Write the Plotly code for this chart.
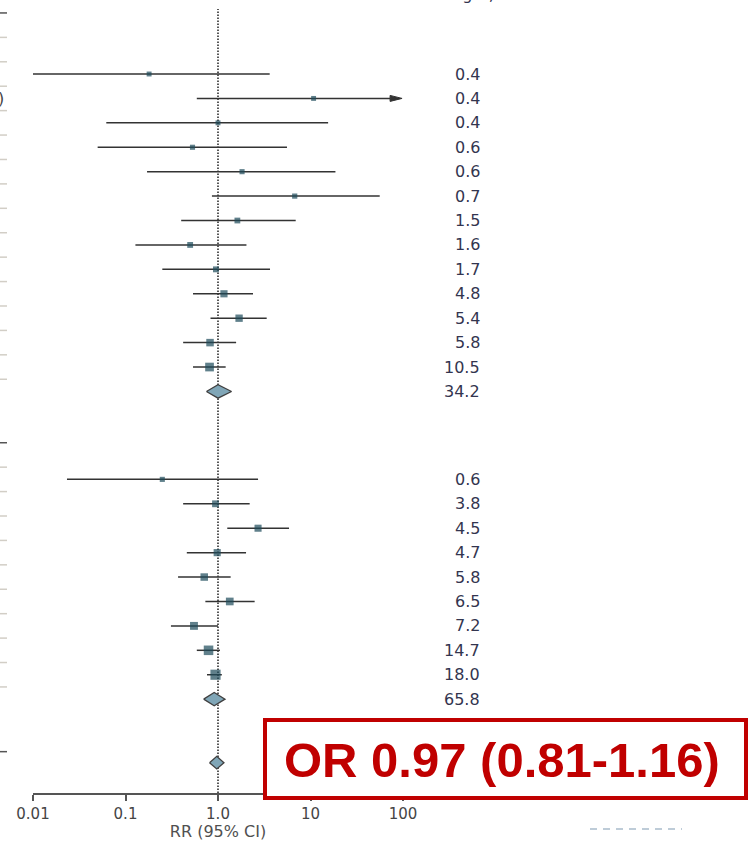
import math
import plotly.graph_objects as go

# ---------------- data ----------------
g1_weight = [0.4, 0.4, 0.4, 0.6, 0.6, 0.7, 1.5, 1.6, 1.7, 4.8, 5.4, 5.8, 10.5]
g1_est = [0.18, 10.8, 1.00, 0.53, 1.82, 6.75, 1.62, 0.50, 0.95, 1.16, 1.69, 0.82, 0.81]
g1_lo = [0.010, 0.59, 0.062, 0.050, 0.171, 0.86, 0.40, 0.128, 0.25, 0.537, 0.83, 0.42, 0.537]
g1_hi = [3.62, 150.0, 15.5, 5.57, 18.6, 56.0, 6.92, 2.03, 3.65, 2.39, 3.36, 1.57, 1.21]
g1_pooled = [1.00, 0.75, 1.40]
g1_pooled_weight = 34.2

g2_weight = [0.6, 3.8, 4.5, 4.7, 5.8, 6.5, 7.2, 14.7, 18.0]
g2_est = [0.25, 0.94, 2.71, 0.98, 0.71, 1.34, 0.55, 0.79, 0.94]
g2_lo = [0.0233, 0.42, 1.26, 0.46, 0.37, 0.73, 0.31, 0.59, 0.76]
g2_hi = [2.71, 2.20, 5.86, 2.01, 1.37, 2.49, 1.00, 1.05, 1.10]
g2_pooled = [0.91, 0.70, 1.19]
g2_pooled_weight = 65.8

overall = [0.97, 0.81, 1.16]

x_tick_vals = [0.01, 0.1, 1, 10, 100]
x_tick_text = ["0.01", "0.1", "1.0", "10", "100"]
x_title = "RR (95% CI)"
box_text = "OR 0.97 (0.81-1.16)"
header_text = "Weight, %"

# ---------------- layout constants ----------------
W, H = 749, 841
ML, MR, MB = 33, 346, 48
PW = W - ML - MR
PH = H - MB
ROW_PX = 24.42
ROW0_PX = 74
Y_TOP = (0 - ROW0_PX) / ROW_PX
Y_BOT = (PH - ROW0_PX) / ROW_PX
G2 = 16.6
OVERALL_ROW = 28.2
XMAX = 100

def pxx(px):
    return (px - ML) / PW

def pxy(py):
    return 1 - py / PH

g1_rows = [i for i in range(len(g1_est))]
g1_pooled_row = len(g1_est)
g2_rows = [G2 + i for i in range(len(g2_est))]
g2_pooled_row = G2 + len(g2_est)

LINE_C = "#333333"
SQ_C = "#1c4a5a"
DIA_FILL = "#80a6b7"
DIA_LINE = "#404040"
NUM_C = "#33354f"

fig = go.Figure()

# CI lines
xs, ys = [], []
arrows = []
for rows, lo, hi in ((g1_rows, g1_lo, g1_hi), (g2_rows, g2_lo, g2_hi)):
    for r, l, h in zip(rows, lo, hi):
        if h > XMAX:
            arrows.append((r, l))
            continue
        xs += [l, h, None]
        ys += [r, r, None]
fig.add_trace(go.Scatter(x=xs, y=ys, mode="lines",
                         line=dict(color=LINE_C, width=1.5), hoverinfo="skip"))

# arrow (upper CI beyond axis)
head_len = 12 / (PW / 4)   # in log decades
head_half = 3 / ROW_PX
for r, l in arrows:
    tip = math.log10(XMAX) - 0.01
    base = tip - head_len
    fig.add_trace(go.Scatter(x=[l, 10 ** base], y=[r, r], mode="lines",
                             line=dict(color=LINE_C, width=1.5), hoverinfo="skip"))
    fig.add_trace(go.Scatter(x=[10 ** base, 10 ** tip, 10 ** base, 10 ** base],
                             y=[r - head_half, r, r + head_half, r - head_half],
                             mode="lines", fill="toself", fillcolor=LINE_C,
                             line=dict(color=LINE_C, width=1), hoverinfo="skip"))

# squares
all_rows = g1_rows + g2_rows
all_est = g1_est + g2_est
all_w = g1_weight + g2_weight
sizes = [4.0 + 1.45 * math.sqrt(w) for w in all_w]
fig.add_trace(go.Scatter(x=all_est, y=all_rows, mode="markers",
                         marker=dict(symbol="square", size=sizes, color=SQ_C,
                                     line=dict(width=0)), hoverinfo="skip"))

# diamonds
def diamond(est, lo, hi, row, half_px):
    h = half_px / ROW_PX
    fig.add_trace(go.Scatter(x=[lo, est, hi, est, lo], y=[row, row - h, row, row + h, row],
                             mode="lines", fill="toself", fillcolor=DIA_FILL,
                             line=dict(color=DIA_LINE, width=1.3), hoverinfo="skip"))

diamond(g1_pooled[0], g1_pooled[1], g1_pooled[2], g1_pooled_row, 6.7)
diamond(g2_pooled[0], g2_pooled[1], g2_pooled[2], g2_pooled_row, 6.7)
diamond(overall[0], overall[1], overall[2], OVERALL_ROW, 6.3)

shapes = []
# dotted null line
shapes.append(dict(type="line", xref="x", yref="paper", x0=1, x1=1, y0=0, y1=pxy(9),
                   line=dict(color="#111111", width=1.4, dash="1.5px,1.5px"), layer="below"))

# left table row ticks
def lefttick(row, dark):
    shapes.append(dict(type="line", xref="paper", yref="y", x0=pxx(0), x1=pxx(7),
                       y0=row, y1=row,
                       line=dict(color="#555555" if dark else "#d2cec6", width=1.5)))

lefttick(-2.5, True)
for i in range(-2, len(g1_est)):
    lefttick(i + 0.5, False)
lefttick(G2 - 1.5, True)
for i in range(-1, len(g2_est)):
    lefttick(G2 + i + 0.5, False)
lefttick(OVERALL_ROW - 0.45, True)

# red box
shapes.append(dict(type="rect", xref="paper", yref="paper",
                   x0=pxx(265), x1=pxx(746), y0=pxy(798), y1=pxy(720),
                   line=dict(color="#c00000", width=4), fillcolor="white", layer="above"))

# light dashed line bottom right
shapes.append(dict(type="line", xref="paper", yref="paper",
                   x0=pxx(590), x1=pxx(682), y0=pxy(829), y1=pxy(829),
                   line=dict(color="#a9bccb", width=1.5, dash="7px,6px")))

annotations = []
for rows, wts in ((g1_rows, g1_weight), (g2_rows, g2_weight)):
    for r, w in zip(rows, wts):
        annotations.append(dict(xref="paper", yref="y", x=pxx(482), y=r, text=f"{w:.1f}",
                                xanchor="right", yanchor="middle", showarrow=False,
                                font=dict(family="DejaVu Sans", size=16, color=NUM_C)))
for r, w in ((g1_pooled_row, g1_pooled_weight), (g2_pooled_row, g2_pooled_weight)):
    annotations.append(dict(xref="paper", yref="y", x=pxx(482), y=r, text=f"{w:.1f}",
                            xanchor="right", yanchor="middle", showarrow=False,
                            font=dict(family="DejaVu Sans", size=16, color=NUM_C)))

# partially visible header at top
annotations.append(dict(xref="paper", yref="paper", x=pxx(431), y=pxy(6), text=header_text,
                        xanchor="left", yanchor="bottom", showarrow=False,
                        font=dict(family="DejaVu Sans", size=16, color=NUM_C)))
# cut-off table text at left edge
annotations.append(dict(xref="paper", yref="y", x=pxx(6), y=g1_rows[1], text=")",
                        xanchor="right", yanchor="middle", showarrow=False,
                        font=dict(family="DejaVu Sans", size=16, color="#444444")))

# box text
annotations.append(dict(xref="paper", yref="paper", x=pxx(502), y=pxy(760), text=box_text,
                        xanchor="center", yanchor="middle", showarrow=False,
                        font=dict(family="Liberation Sans", size=49, color="#c00000",
                                  weight="bold")))

fig.update_layout(
    width=W, height=H,
    margin=dict(l=ML, r=MR, t=0, b=MB, pad=0, autoexpand=False),
    plot_bgcolor="white", paper_bgcolor="white",
    showlegend=False,
    shapes=shapes, annotations=annotations,
    xaxis=dict(type="log", range=[-2, 2], showgrid=False, zeroline=False,
               showline=True, linecolor="#555555", linewidth=1.5,
               ticks="outside", ticklen=6, tickwidth=1.5, tickcolor="#555555",
               tickvals=x_tick_vals, ticktext=x_tick_text,
               tickfont=dict(family="DejaVu Sans", size=15, color="#454545"),
               title=dict(text=x_title, standoff=7,
                          font=dict(family="DejaVu Sans", size=16, color="#505050")),
               automargin=False, fixedrange=True),
    yaxis=dict(range=[Y_BOT, Y_TOP], visible=False, showgrid=False, zeroline=False,
               automargin=False, fixedrange=True),
)

fig.write_html("out.html", config={"displayModeBar": False},
               post_script="document.body.style.margin='0px';document.body.style.overflow='hidden';")
